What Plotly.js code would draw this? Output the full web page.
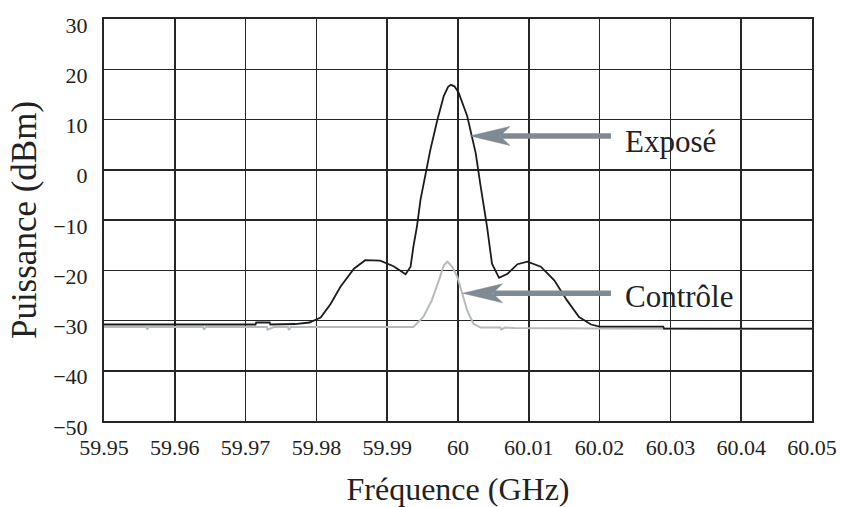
<!DOCTYPE html>
<html>
<head>
<meta charset="utf-8">
<script src="https://cdn.plot.ly/plotly-3.0.1.min.js"></script>
<style>
  html, body { margin: 0; padding: 0; background: #ffffff; }
  #chart { width: 841px; height: 507px; }
</style>
</head>
<body>
<div id="chart"></div>
<script>
// Exposé (black trace)
const exposeFreq = [59.95, 59.9560, 59.9640, 59.9714, 59.9715, 59.9734, 59.9735, 59.9750, 59.9770, 59.9790,
  59.9806, 59.9820, 59.9834, 59.9853, 59.9869, 59.9890, 59.9909, 59.9926, 59.9933, 59.9937,
  59.9942, 59.9947, 59.9954, 59.9961, 59.9971, 59.9980, 59.9986, 59.9990, 59.9995, 60.0001, 60.0013, 60.0025,
  60.0032, 60.0041, 60.0048, 60.0058, 60.0070, 60.0084, 60.0098, 60.0117, 60.0136, 60.0154,
  60.0171, 60.0188, 60.0200, 60.0290, 60.0291, 60.0400, 60.05];
const exposePower = [-30.8, -30.8, -30.8, -30.8, -30.4, -30.4, -30.8, -30.8, -30.7, -30.4,
  -29.4, -26.7, -23.3, -19.7, -18.0, -18.1, -19.2, -20.8, -19.3, -15.3,
  -11.3, -6.0, -0.7, 4.0, 10.0, 14.7, 16.5, 16.9, 16.6, 15.3, 10.7, 3.3,
  -3.3, -11.3, -18.7, -21.5, -20.7, -18.8, -18.3, -19.3, -22.0, -26.0,
  -29.3, -30.8, -31.2, -31.2, -31.6, -31.6, -31.6];

// Contrôle (grey trace)
const controleFreq = [59.95, 59.9560, 59.9561, 59.9563, 59.9640, 59.9641, 59.9644, 59.9730, 59.9731, 59.9740,
  59.9760, 59.9761, 59.9764, 59.9840, 59.9937, 59.9951, 59.9963, 59.9973, 59.9980, 59.9985,
  59.9992, 59.9999, 60.0006, 60.0013, 60.0022, 60.0032, 60.0060, 60.0061, 60.0066, 60.0080,
  60.0200, 60.05];
const controlePower = [-31.3, -31.3, -31.8, -31.3, -31.3, -31.8, -31.3, -31.3, -31.8, -31.3,
  -31.3, -31.9, -31.3, -31.3, -31.3, -29.3, -26.0, -22.0, -19.0, -18.3,
  -19.3, -21.3, -24.7, -28.0, -30.7, -31.4, -31.4, -31.8, -31.4, -31.5,
  -31.6, -31.7];

// Axis ticks
const xTickVals = [59.95, 59.96, 59.97, 59.98, 59.99, 60.00, 60.01, 60.02, 60.03, 60.04, 60.05];
const xTickText = ["59.95", "59.96", "59.97", "59.98", "59.99", "60", "60.01", "60.02", "60.03", "60.04", "60.05"];
const yTickVals = [-50, -40, -30, -20, -10, 0, 10, 20, 30];
const yTickText = ["\u221250", "\u221240", "\u221230", "\u221220", "\u221210", "0", "10", "20", "30"];

// Labels
const seriesNames = ["Exposé", "Contrôle"];
const xTitle = "Fréquence (GHz)";
const yTitle = "Puissance (dBm)";

const FONT = "Liberation Serif";
const ARROW = "#7f8a93";
const GRID = "#262626";
const TEXT = "#222222";

const traces = [
  { x: controleFreq, y: controlePower, type: "scatter", mode: "lines", name: seriesNames[1],
    line: { color: "#b5babe", width: 2 }, hoverinfo: "x+y" },
  { x: exposeFreq, y: exposePower, type: "scatter", mode: "lines", name: seriesNames[0],
    line: { color: "#1c1c1c", width: 1.8 }, hoverinfo: "x+y" }
];

const layout = {
  width: 841, height: 507,
  margin: { l: 104, r: 29, t: 19, b: 86 },
  paper_bgcolor: "#ffffff", plot_bgcolor: "#ffffff",
  showlegend: false,
  font: { family: FONT, color: TEXT },
  xaxis: {
    range: [59.95, 60.05], tickvals: xTickVals, ticktext: xTickText,
    showgrid: true, gridcolor: GRID, gridwidth: 1.5,
    showline: true, linecolor: GRID, linewidth: 2, mirror: true,
    zeroline: false, ticks: "", ticklabelstandoff: 6,
    tickfont: { family: FONT, size: 22, color: TEXT },
    title: { text: xTitle, font: { family: FONT, size: 32, color: TEXT }, standoff: 20 }
  },
  yaxis: {
    range: [-50, 30], tickvals: yTickVals, ticktext: yTickText,
    showgrid: true, gridcolor: GRID, gridwidth: 1.5,
    showline: true, linecolor: GRID, linewidth: 2, mirror: true,
    zeroline: false, ticks: "", ticklabelstandoff: 10, ticklabelshift: 6,
    tickfont: { family: FONT, size: 22, color: TEXT },
    title: { text: yTitle, font: { family: FONT, size: 35, color: TEXT }, standoff: 6 }
  },
  shapes: [
    { type: "line", xref: "x", yref: "y", x0: 60.0060, x1: 60.0216, y0: 6.73, y1: 6.73,
      line: { color: ARROW, width: 5.5 } },
    { type: "path", xref: "x", yref: "y",
      path: "M60.0017,6.73 L60.00734,8.62 L60.00593,6.73 L60.00734,4.84 Z",
      fillcolor: ARROW, line: { color: ARROW, width: 0.5 } },
    { type: "line", xref: "x", yref: "y", x0: 60.0050, x1: 60.0216, y0: -24.58, y1: -24.58,
      line: { color: ARROW, width: 5.5 } },
    { type: "path", xref: "x", yref: "y",
      path: "M60.00066,-24.58 L60.0063,-22.69 L60.0049,-24.58 L60.0063,-26.47 Z",
      fillcolor: ARROW, line: { color: ARROW, width: 0.5 } }
  ],
  annotations: [
    { x: 60.0233, y: 5.6, xref: "x", yref: "y", text: seriesNames[0], showarrow: false,
      xanchor: "left", yanchor: "middle", font: { family: FONT, size: 31, color: TEXT } },
    { x: 60.0233, y: -25.3, xref: "x", yref: "y", text: seriesNames[1], showarrow: false,
      xanchor: "left", yanchor: "middle", font: { family: FONT, size: 31, color: TEXT } }
  ]
};

Plotly.newPlot("chart", traces, layout, { displayModeBar: false, staticPlot: true });
</script>
</body>
</html>
